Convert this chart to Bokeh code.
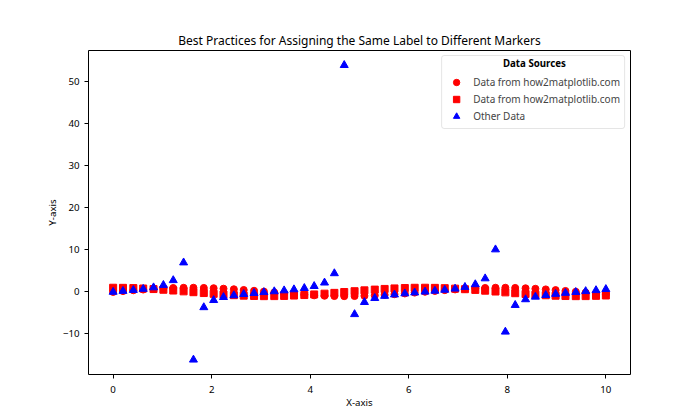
from bokeh.plotting import figure
from bokeh.models import Range1d, Legend, LegendItem, Label, FixedTicker
from bokeh.embed import file_html
from bokeh.resources import INLINE

x_vals = [0.00, 0.20, 0.41, 0.61, 0.82, 1.02, 1.22, 1.43, 1.63, 1.84,
          2.04, 2.24, 2.45, 2.65, 2.86, 3.06, 3.27, 3.47, 3.67, 3.88,
          4.08, 4.29, 4.49, 4.69, 4.90, 5.10, 5.31, 5.51, 5.71, 5.92,
          6.12, 6.33, 6.53, 6.73, 6.94, 7.14, 7.35, 7.55, 7.76, 7.96,
          8.16, 8.37, 8.57, 8.78, 8.98, 9.18, 9.39, 9.59, 9.80, 10.00]

circle_vals = [0.00, 0.20, 0.40, 0.57, 0.73, 0.85, 0.94, 0.99, 1.00, 0.96,
               0.89, 0.78, 0.64, 0.47, 0.28, 0.08, -0.12, -0.32, -0.51, -0.67,
               -0.81, -0.91, -0.98, -1.00, -0.98, -0.93, -0.83, -0.70, -0.54, -0.36,
               -0.16, 0.04, 0.24, 0.43, 0.60, 0.75, 0.87, 0.95, 1.00, 1.00,
               0.96, 0.87, 0.76, 0.61, 0.44, 0.24, 0.04, -0.16, -0.36, -0.54]

square_vals = [1.00, 0.98, 0.92, 0.82, 0.69, 0.52, 0.34, 0.14, -0.06, -0.26,
               -0.45, -0.62, -0.77, -0.88, -0.96, -1.00, -0.99, -0.95, -0.86, -0.74,
               -0.59, -0.41, -0.22, -0.02, 0.18, 0.38, 0.56, 0.72, 0.84, 0.93,
               0.99, 1.00, 0.97, 0.90, 0.79, 0.65, 0.49, 0.30, 0.10, -0.10,
               -0.30, -0.49, -0.65, -0.79, -0.90, -0.97, -1.00, -0.99, -0.93, -0.84]

triangle_vals = [0.00, 0.21, 0.43, 0.70, 1.06, 1.63, 2.77, 6.99, -16.15, -3.67,
                 -1.97, -1.25, -0.83, -0.53, -0.29, -0.08, 0.12, 0.34, 0.59, 0.90,
                 1.37, 2.20, 4.42, 54.00, -5.32, -2.44, -1.48, -0.97, -0.64, -0.38,
                 -0.16, 0.04, 0.25, 0.48, 0.76, 1.16, 1.80, 3.20, 10.10, -9.49,
                 -3.14, -1.78, -1.16, -0.77, -0.49, -0.25, -0.05, 0.16, 0.39, 0.65]

x_ticks = [0, 2, 4, 6, 8, 10]
y_ticks = [-10, 0, 10, 20, 30, 40, 50]

FONT = "Noto Sans"

p = figure(width=700, height=420, output_backend="svg", toolbar_location=None,
           x_range=Range1d(-0.5, 10.5), y_range=Range1d(-19.66, 57.5),
           min_border_left=88, min_border_right=70, min_border_top=50, min_border_bottom=46,
           title="Best Practices for Assigning the Same Label to Different Markers")

p.title.align = "center"
p.title.text_font = FONT
p.title.text_font_size = "12px"
p.title.text_font_style = "normal"
p.title.text_color = "black"
p.title.offset = 0
p.title.standoff = 4

p.grid.visible = False
p.outline_line_color = "black"
p.outline_line_width = 1
p.background_fill_color = "white"
p.border_fill_color = "white"

for ax in (p.xaxis[0], p.yaxis[0]):
    ax.major_label_text_font = FONT
    ax.major_label_text_font_size = "9.7px"
    ax.major_label_text_color = "black"
    ax.axis_label_text_font = FONT
    ax.axis_label_text_font_size = "9.7px"
    ax.axis_label_text_font_style = "normal"
    ax.axis_label_text_color = "black"
    ax.minor_tick_line_color = None
    ax.major_tick_in = 0
    ax.major_tick_out = 4
    ax.axis_line_color = None
    ax.major_tick_line_color = "black"

p.xaxis.ticker = FixedTicker(ticks=x_ticks)
p.yaxis.ticker = FixedTicker(ticks=y_ticks)
p.xaxis.axis_label = "X-axis"
p.yaxis.axis_label = "Y-axis"
p.xaxis.major_label_standoff = 7
p.xaxis.axis_label_standoff = 0
p.yaxis.axis_label_standoff = 1

r1 = p.scatter(x_vals, circle_vals, marker="circle", size=7, fill_color="red", line_color="red")
r2 = p.scatter(x_vals, square_vals, marker="square", size=7, fill_color="red", line_color="red")
r3 = p.scatter(x_vals, triangle_vals, marker="triangle", size=8, fill_color="blue", line_color="blue")

legend = Legend(items=[
    LegendItem(label="Data from how2matplotlib.com", renderers=[r1]),
    LegendItem(label="Data from how2matplotlib.com", renderers=[r2]),
    LegendItem(label="Other Data", renderers=[r3]),
], location="top_right")
legend.title = "Data Sources"
legend.title_text_font = FONT
legend.title_text_font_size = "9.7px"
legend.title_text_font_style = "bold"
legend.title_text_alpha = 0
legend.title_standoff = 1
legend.label_text_font = FONT
legend.label_text_font_size = "10px"
legend.label_height = 16
legend.glyph_height = 16
legend.glyph_width = 20
legend.spacing = 1
legend.padding = 4
legend.margin = 5
legend.label_standoff = 7
legend.border_line_color = "#cccccc"
legend.border_line_width = 1
legend.border_radius = 3
legend.background_fill_alpha = 0
p.add_layout(legend)

title_lbl = Label(x=8.55, y=54.3, text="Data Sources", level="overlay",
                  text_align="center", text_baseline="middle", text_font=FONT,
                  text_font_size="9.7px", text_font_style="bold", text_color="black")
p.add_layout(title_lbl)

open("out.html", "w").write(file_html(p, INLINE))
